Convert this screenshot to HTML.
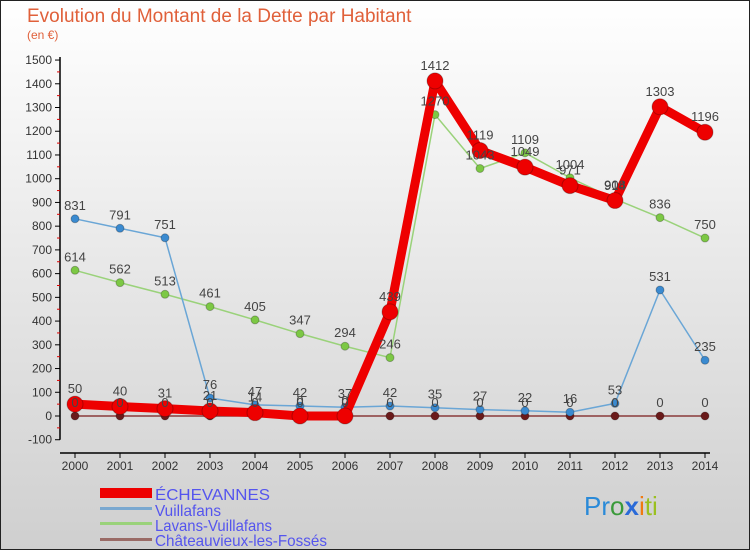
<!DOCTYPE html>
<html><head><meta charset="utf-8"><style>
body{margin:0;width:750px;height:550px;overflow:hidden;font-family:"Liberation Sans",sans-serif}
</style></head><body>
<svg id="c" width="750" height="550" xmlns="http://www.w3.org/2000/svg">
<defs><linearGradient id="bg" x1="0" y1="0" x2="0" y2="1"><stop offset="0" stop-color="#ffffff"/><stop offset="1" stop-color="#cfcfcf"/></linearGradient></defs>
<rect x="0.5" y="0.5" width="749" height="549" fill="url(#bg)" stroke="#222"/>
<text x="27" y="22" font-size="19" fill="#e0603a">Evolution du Montant de la Dette par Habitant</text>
<text x="27" y="39" font-size="12" fill="#e0603a">(en €)</text>
<g id="axes"></g><g id="series"></g><g id="labels"></g>
<g font-size="16" fill="#5555ee">
<rect x="100" y="488" width="52" height="10" fill="#e00"/>
<text x="155" y="500" textLength="115" lengthAdjust="spacingAndGlyphs">ÉCHEVANNES</text>
<rect x="100" y="507" width="52" height="3" fill="#7aa8d0"/>
<text x="155" y="516" textLength="66" lengthAdjust="spacingAndGlyphs">Vuillafans</text>
<rect x="100" y="522" width="52" height="3" fill="#9ad27a"/>
<text x="155" y="531" textLength="117" lengthAdjust="spacingAndGlyphs">Lavans-Vuillafans</text>
<rect x="100" y="538" width="52" height="3" fill="#9a6b66"/>
<text x="155" y="546" textLength="172" lengthAdjust="spacingAndGlyphs">Châteauvieux-les-Fossés</text>
</g>
<text x="584" y="515" font-size="26"><tspan fill="#2a8ad8">Pr</tspan><tspan fill="#3a9a3a">o</tspan><tspan fill="#2a6ad8" font-weight="bold">x</tspan><tspan fill="#f07a10">i</tspan><tspan fill="#9ac020">ti</tspan></text>
</svg>
<script>
const years=[2000,2001,2002,2003,2004,2005,2006,2007,2008,2009,2010,2011,2012,2013,2014];
const echevannes=[50,40,31,21,14,0,0,439,1412,1119,1049,971,908,1303,1196];
const vuillafans=[831,791,751,76,47,42,37,42,35,27,22,16,53,531,235];
const lavans=[614,562,513,461,405,347,294,246,1270,1043,1109,1004,914,836,750];
const chateauvieux=[0,0,0,0,0,0,0,0,0,0,0,0,0,0,0];
const yTicks=[-100,0,100,200,300,400,500,600,700,800,900,1000,1100,1200,1300,1400,1500];
const NS="http://www.w3.org/2000/svg";
const X=i=>75+i*45, Y=v=>416-v*0.2373;
function mk(tag,at,par){const e=document.createElementNS(NS,tag);for(const k in at)e.setAttribute(k,at[k]);par.appendChild(e);return e;}
const ax=document.getElementById('axes'),sg=document.getElementById('series'),lg=document.getElementById('labels');
let l=mk('line',{x1:60,y1:Y(1500)-3,x2:60,y2:Y(-100),stroke:'#000','stroke-width':1.5},ax);


l=mk('line',{x1:60,y1:453,x2:710,y2:453,stroke:'#000','stroke-width':1.5},ax);


yTicks.forEach(v=>{
 mk('line',{x1:55,y1:Y(v),x2:60,y2:Y(v),stroke:'#000'},ax);
 if(v<1500) mk('line',{x1:57,y1:Y(v+50),x2:60,y2:Y(v+50),stroke:'#d00'},ax);
 const t=mk('text',{x:52,y:Y(v)+4,'font-size':12,'text-anchor':'end',fill:'#333'},ax);t.textContent=v;
 
 
});
years.forEach((y,i)=>{
 mk('line',{x1:X(i),y1:453,x2:X(i),y2:458,stroke:'#000'},ax);
 const t=mk('text',{x:X(i),y:470,'font-size':12,'text-anchor':'middle',fill:'#333'},ax);t.textContent=y;
 
 
});
function series(data,color,w,r,name,dot){
 const g=mk('g',{},sg);
 
 
 mk('polyline',{points:data.map((v,i)=>X(i)+','+Y(v)).join(' '),fill:'none',stroke:color,'stroke-width':w,'stroke-linejoin':'round'},g);
 data.forEach((v,i)=>{
  const c=mk('circle',{cx:X(i),cy:Y(v),r:r,fill:dot,stroke:'rgba(0,0,0,0.25)'},g);
  
  
  const t=mk('text',{x:X(i),y:Y(v)-9-(r>6?2:0),'font-size':13,'text-anchor':'middle',fill:'#444'},lg);t.textContent=v;
  
  
 });
}
series(chateauvieux,'#8a3a3a',1.5,4,'chateauvieux-series','#6a1a1a');
series(lavans,'#9ad27a',1.5,4,'lavans-series','#7cc844');
series(vuillafans,'#6aa6d6',1.5,4,'vuillafans-series','#3a8ad0');
series(echevannes,'#ee0000',9,8,'echevannes-series','#ee0000');
</script>
</body></html>
